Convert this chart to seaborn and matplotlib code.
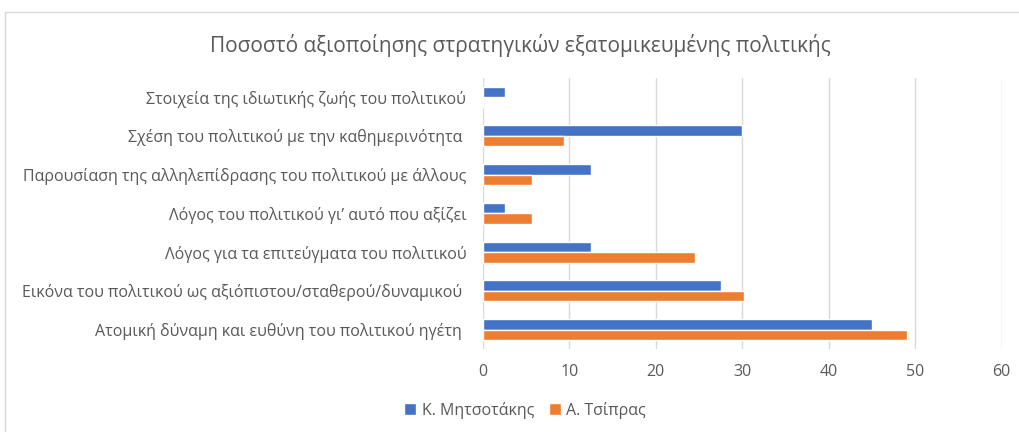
import pandas as pd
import matplotlib
matplotlib.use("Agg")
import matplotlib.pyplot as plt
from matplotlib.patches import Rectangle
import seaborn as sns

# categories top to bottom, as in the chart
categories = [
    "Στοιχεία της ιδιωτικής ζωής του πολιτικού",
    "Σχέση του πολιτικού με την καθημερινότητα ",
    "Παρουσίαση της αλληλεπίδρασης του πολιτικού με άλλους",
    "Λόγος του πολιτικού γι’ αυτό που αξίζει",
    "Λόγος για τα επιτεύγματα του πολιτικού",
    "Εικόνα του πολιτικού ως αξιόπιστου/σταθερού/δυναμικού ",
    "Ατομική δύναμη και ευθύνη του πολιτικού ηγέτη ",
]
series = ["Κ. Μητσοτάκης", "Α. Τσίπρας"]
mitsotakis = [2.5, 30.0, 12.5, 2.5, 12.5, 27.5, 45.0]
tsipras = [0.0, 9.4, 5.7, 5.7, 24.5, 30.2, 49.1]
x_ticks = [0, 10, 20, 30, 40, 50, 60]

TEXT = "#595959"
colors = ["#4472C4", "#ED7D31"]


def main():
    df = pd.DataFrame({
        "category": categories * 2,
        "series": [series[0]] * len(categories) + [series[1]] * len(categories),
        "value": mitsotakis + tsipras,
    })

    sns.set_theme(style="white")
    plt.rcParams["font.family"] = ["Open Sans", "DejaVu Sans"]

    fig = plt.figure(figsize=(10.2, 4.32), dpi=100)
    ax = fig.add_axes([0.4735, 0.192, 0.5085, 0.628])

    sns.barplot(data=df, y="category", x="value", hue="series", order=categories,
                hue_order=series, palette=colors, orient="h", width=0.54,
                saturation=1, ax=ax, legend=True)

    ax.set_xlim(0, 60)
    ax.set_xticks(x_ticks)
    ax.xaxis.grid(True, color="#d9d9d9", linewidth=1)
    ax.set_axisbelow(True)
    for s in ax.spines.values():
        s.set_visible(False)
    ax.set_xlabel("")
    ax.set_ylabel("")
    ax.tick_params(axis="x", length=0, pad=11, labelsize=11.5, labelcolor=TEXT)
    ax.tick_params(axis="y", length=0, pad=12, labelsize=11.5, labelcolor=TEXT)

    leg = ax.legend(loc="center", bbox_to_anchor=(0.515, 0.05), bbox_transform=fig.transFigure,
                    ncol=2, frameon=False, fontsize=11.5, handlelength=0.75, handleheight=0.75,
                    columnspacing=0.9, handletextpad=0.35)
    for t in leg.get_texts():
        t.set_color(TEXT)

    fig.text(0.51, 0.895, "Ποσοστό αξιοποίησης στρατηγικών εξατομικευμένης πολιτικής",
             ha="center", va="center", fontsize=15, color=TEXT)

    fig.patches.append(Rectangle((5 / 1020, -0.05), 1.0, 1 - 12 / 432 + 0.05,
                                 transform=fig.transFigure, fill=False,
                                 edgecolor="#d9d9d9", linewidth=1))

    fig.savefig("out.png", dpi=100)


if __name__ == "__main__":
    main()
